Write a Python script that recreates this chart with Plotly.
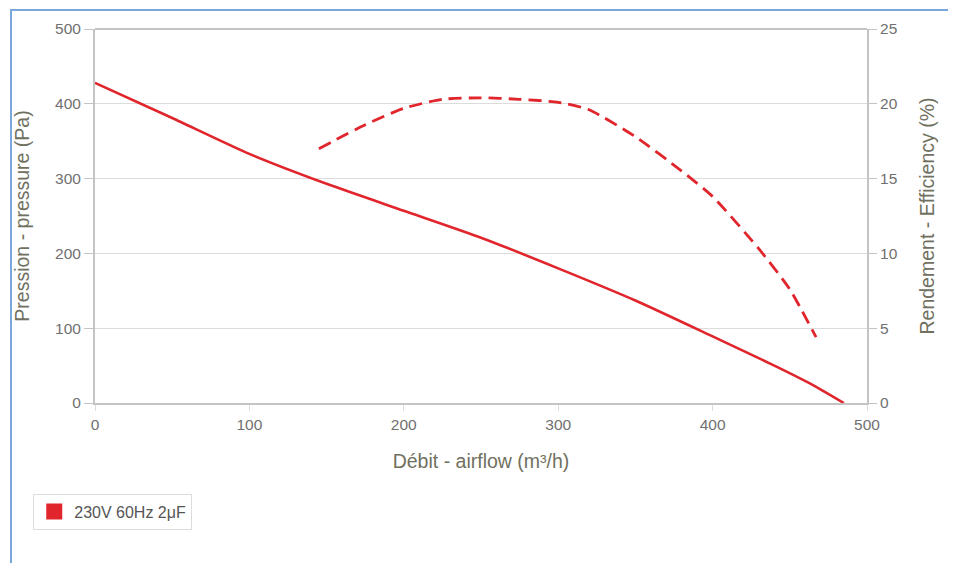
import plotly.graph_objects as go

# Data
airflow_p = [0, 50, 100, 150, 200, 250, 300, 350, 400, 440, 465, 485]
pressure = [428, 381, 333, 293, 257, 221, 180, 137, 89, 50, 24, 0]

airflow_e = [145, 175, 200, 225, 250, 275, 300, 320, 350, 380, 400, 430, 450, 467]
efficiency = [17.0, 18.6, 19.7, 20.3, 20.4, 20.3, 20.1, 19.6, 17.8, 15.5, 13.8, 10.3, 7.6, 4.4]

x_ticks = [0, 100, 200, 300, 400, 500]
y_ticks = [0, 100, 200, 300, 400, 500]
y2_ticks = [0, 5, 10, 15, 20, 25]

series_name = "230V 60Hz 2μF"
red = "#e0252c"

fig = go.Figure()
fig.add_trace(go.Scatter(x=airflow_p, y=pressure, mode="lines",
                         line=dict(color=red, width=2.6, shape="spline", smoothing=0.6),
                         showlegend=False, hoverinfo="skip"))
fig.add_trace(go.Scatter(x=airflow_e, y=efficiency, mode="lines", yaxis="y2",
                         line=dict(color=red, width=2.8, dash="13px,7px", shape="spline", smoothing=0.6),
                         showlegend=False, hoverinfo="skip"))
fig.add_trace(go.Scatter(x=[None], y=[None], mode="markers", name=series_name,
                         marker=dict(symbol="square", size=16, color=red)))

font_fam = "Liberation Sans, Arial, sans-serif"
tick_font = dict(family=font_fam, size=15.5, color="#707070")
title_font = dict(family=font_fam, size=19.5, color="#707060")
axis_col = "#c4c4c4"
grid_col = "#dcdcdc"

fig.update_layout(
    width=948, height=555,
    margin=dict(l=87, r=89, t=19, b=160),
    paper_bgcolor="white", plot_bgcolor="white",
    xaxis=dict(range=[0, 500], tickvals=x_ticks, showgrid=False, zeroline=False,
               showline=True, linecolor=axis_col, linewidth=2, mirror=False,
               ticks="outside", ticklen=6, tickcolor=grid_col, tickfont=tick_font,
               title=dict(text="Débit - airflow (m³/h)", font=title_font, standoff=23)),
    yaxis=dict(range=[0, 500], tickvals=y_ticks, showgrid=True, gridcolor=grid_col, gridwidth=1,
               zeroline=False, showline=True, linecolor=axis_col, linewidth=2,
               ticks="outside", ticklen=9, tickcolor=axis_col, tickfont=tick_font,
               title=dict(text="Pression - pressure (Pa)", font=title_font, standoff=20)),
    yaxis2=dict(range=[0, 25], tickvals=y2_ticks, overlaying="y", side="right",
                showgrid=False, zeroline=False, showline=True, linecolor=axis_col, linewidth=2,
                ticks="outside", ticklen=8, tickcolor=axis_col, tickfont=tick_font,
                title=dict(text="Rendement - Efficiency (%)", font=title_font, standoff=24)),
    legend=dict(x=-0.08, y=-0.242, xanchor="left", yanchor="top",
                bordercolor="#dddddd", borderwidth=1, bgcolor="white",
                font=dict(family=font_fam, size=16, color="#555555")),
    shapes=[
        dict(type="rect", xref="paper", yref="paper", x0=-0.1088, x1=1.3, y0=-0.6, y1=1.0505,
             line=dict(color="#7aa7dc", width=2), layer="below"),
        dict(type="line", xref="paper", yref="paper", x0=0, x1=1, y0=1, y1=1,
             line=dict(color=axis_col, width=2)),
    ],
)

fig.write_html("out.html")
